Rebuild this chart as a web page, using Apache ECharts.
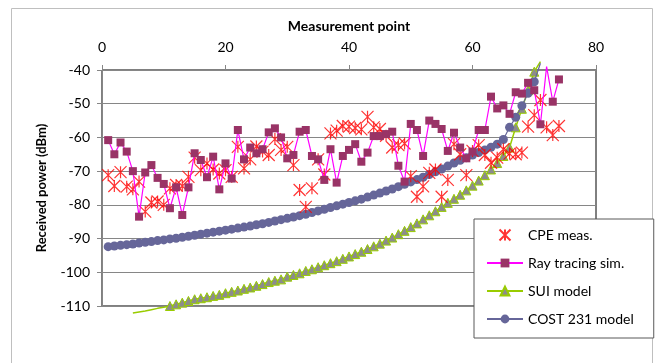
<!DOCTYPE html>
<html>
<head>
<meta charset="utf-8">
<script src="https://cdn.jsdelivr.net/npm/echarts@6/dist/echarts.min.js"></script>
<style>
  html, body { margin: 0; padding: 0; background: #fff; }
  #chart { width: 660px; height: 363px; }
</style>
</head>
<body>
<div id="chart"></div>
<script>
// x ticks (measurement point) and y range (dBm)
const xTicks = [0, 20, 40, 60, 80];
const yTicks = [-110, -100, -90, -80, -70, -60, -50, -40];

// CPE measurements, points 1..74
const cpeMeas = [
  -71.2, -74.4, -70.3, -74.6, -75.4, -73.1, -82, -79.3, -79, -80,
  -75.1, -74.1, -74.4, -71.7, -66, -69.7, -67.7, -69.5, -70.7, -69.7,
  -71.7, -62.8, -69.2, -66.5, -62.7, -64.2, -65.2, -60.5, -63.7, -62.8,
  -68.2, -75.6, -80.6, -75.1, -66.5, -71, -58.8, -58, -56.6, -56.8,
  -57.2, -57.6, -53.9, -57, -57.5, -59.5, -63, -62.3, -61.8, -71.5,
  -77.6, -74.5, -70.5, -69.5, -77.6, -72.6, -62, -65, -71.2, -64,
  -62.3, -65.2, -67.5, -66, -63.5, -64.8, -65, -64.5, -56.8, -53.4,
  -48.9, -57, -59.3, -56.6
];

// Ray tracing simulation, points 1..74
const rayTracing = [
  -60.8, -65, -61.5, -64.2, -70, -83.5, -70.4, -68.2, -72, -73.8,
  -81, -74.8, -83, -74.8, -64.7, -66.7, -71.8, -65.7, -75.4, -67.7,
  -72.2, -57.8, -66.5, -63, -64.7, -63.5, -58.5, -57.3, -60, -66.2,
  -65.2, -58.3, -57.8, -65.5, -66.5, -72.6, -63.5, -73.4, -65.5, -63.7,
  -62, -67.2, -64.5, -59.6, -59.6, -59, -58.3, -68.4, -73.1, -56,
  -57.8, -65.5, -55, -56, -57.5, -64, -58.6, -63, -66.2, -64.2,
  -57.8, -57.8, -47.9, -51.4, -50.5, -53, -46.6, -47, -43.8, -46,
  -56.1, -39, -49.4, -42.8
];

// SUI model, points 5..71
const suiStart = 5;
const suiModel = [
  -112.1, -111.8, -111.5, -111.1, -110.7, -110.4, -110, -109.5, -109, -108.5,
  -108, -107.7, -107.4, -107, -106.7, -106.2, -105.8, -105.4, -104.9, -104.5,
  -104, -103.5, -102.9, -102.5, -102.1, -101.3, -100.8, -100.3, -99.6, -99.1,
  -98.5, -97.9, -97.3, -96.7, -96, -95.3, -94.6, -93.9, -93.1, -92.3,
  -91.5, -90.6, -89.7, -88.7, -87.7, -86.6, -85.5, -84.3, -83.1, -81.9,
  -80.6, -79.4, -78.2, -77, -75.7, -74.3, -72.8, -71.2, -69.5, -67.6,
  -65.5, -63, -57, -51.5, -46, -40.5, -37.5
];

// COST 231 model, points 1..71
const costModel = [
  -92.4, -92.2, -92, -91.8, -91.6, -91.3, -91.1, -90.9, -90.6, -90.4,
  -90.1, -89.9, -89.6, -89.3, -89, -88.7, -88.4, -88.1, -87.8, -87.5,
  -87.2, -86.9, -86.6, -86.3, -85.9, -85.6, -85.2, -84.8, -84.4, -84,
  -83.6, -83.2, -82.8, -82.3, -81.8, -81.3, -80.8, -80.3, -79.8, -79.3,
  -78.8, -78.3, -77.7, -77.1, -76.5, -75.9, -75.3, -74.6, -73.9, -73.2,
  -72.5, -71.8, -71, -70.2, -69.4, -68.5, -67.6, -66.8, -66, -65.2,
  -64.5, -63.7, -62.9, -62, -60.6, -57, -54, -50.6, -46.9, -43.5,
  -38
];

const Y_MIN = yTicks[0];
const Y_MAX = yTicks[yTicks.length - 1];

// pair values with their point number; hide markers that fall outside the axis
function toPoints(start, vals) {
  return vals.map((v, i) => {
    const p = [start + i, v];
    return (v < Y_MIN || v > Y_MAX) ? { value: p, symbol: 'none' } : p;
  });
}

const font = 'Lato, "Open Sans", sans-serif';
const gridGray = '#868686';

const chart = echarts.init(document.getElementById('chart'));

chart.setOption({
  animation: false,
  backgroundColor: '#fff',
  graphic: [{
    type: 'rect',
    shape: { x: 11.5, y: 8.5, width: 641, height: 370 },
    style: { fill: 'none', stroke: '#bfbfbf', lineWidth: 1 },
    z: -1
  }],
  grid: {
    left: 102, top: 70, right: 64, bottom: 57,
    show: true, borderColor: '#000', borderWidth: 1, backgroundColor: 'transparent'
  },
  xAxis: {
    type: 'value',
    position: 'top',
    min: xTicks[0], max: xTicks[xTicks.length - 1], interval: 20,
    name: 'Measurement point',
    nameLocation: 'middle',
    nameGap: 37,
    nameTextStyle: { fontFamily: font, fontSize: 14, fontWeight: 'bold', color: '#000' },
    axisLine: { lineStyle: { color: gridGray } },
    axisTick: { show: true, length: 5, lineStyle: { color: gridGray } },
    axisLabel: { fontFamily: font, fontSize: 14, color: '#000', margin: 16 },
    splitLine: { show: false }
  },
  yAxis: {
    type: 'value',
    min: Y_MIN, max: Y_MAX, interval: 10,
    name: 'Received power (dBm)',
    nameLocation: 'middle',
    nameRotate: 90,
    nameGap: 54,
    nameTextStyle: { fontFamily: font, fontSize: 13, fontWeight: 'bold', color: '#000' },
    axisLine: { show: true, lineStyle: { color: gridGray } },
    axisTick: { show: true, length: 5, lineStyle: { color: gridGray } },
    axisLabel: { fontFamily: font, fontSize: 14, color: '#000', margin: 12 },
    splitLine: { lineStyle: { color: gridGray, width: 1 } }
  },
  legend: {
    orient: 'vertical',
    left: 474, top: 219,
    padding: [9, 20, 12, 12],
    itemGap: 14,
    itemWidth: 36, itemHeight: 11,
    backgroundColor: '#fff',
    borderColor: '#595959', borderWidth: 1,
    textStyle: { fontFamily: font, fontSize: 14, color: '#000' },
    data: ['CPE meas.', 'Ray tracing sim.', 'SUI model', 'COST 231 model']
  },
  series: [
    {
      name: 'SUI model',
      type: 'line',
      clip: false,
      data: toPoints(suiStart, suiModel),
      symbol: 'triangle',
      symbolSize: 9,
      lineStyle: { color: '#99cc00', width: 1.5 },
      itemStyle: { color: '#8c8c8c', borderColor: '#99cc00', borderWidth: 1 },
      z: 2
    },
    {
      name: 'COST 231 model',
      type: 'line',
      clip: false,
      data: toPoints(1, costModel),
      symbol: 'circle',
      symbolSize: 9,
      lineStyle: { color: '#666699', width: 1.2 },
      itemStyle: { color: '#666699', borderColor: '#666699', borderWidth: 0 },
      z: 3
    },
    {
      name: 'CPE meas.',
      type: 'scatter',
      data: toPoints(1, cpeMeas),
      symbol: 'path://M0,0L10,10M10,0L0,10M5,0L5,10',
      symbolSize: 12,
      itemStyle: { color: 'rgba(0,0,0,0)', borderColor: '#ff0000', borderWidth: 1.2 },
      z: 4
    },
    {
      name: 'Ray tracing sim.',
      type: 'line',
      clip: false,
      data: toPoints(1, rayTracing),
      symbol: 'rect',
      symbolSize: 8,
      lineStyle: { color: '#ff00ff', width: 1.2 },
      itemStyle: { color: '#993366', borderColor: '#993366', borderWidth: 0 },
      z: 5
    }
  ]
});
</script>
</body>
</html>
